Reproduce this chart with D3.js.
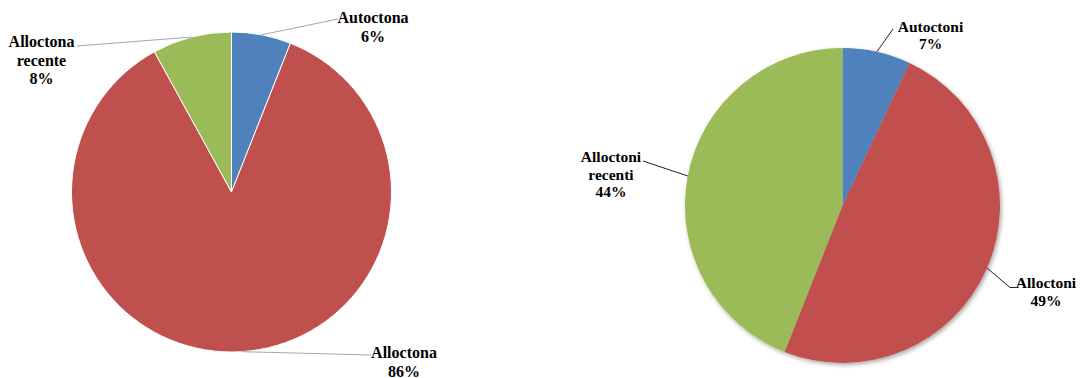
<!DOCTYPE html>
<html>
<head>
<meta charset="utf-8">
<script src="https://cdn.jsdelivr.net/npm/d3@7"></script>
<style>
  html, body { margin: 0; padding: 0; background: #fff; }
  svg { display: block; }
  text { font-family: "Liberation Serif", "Times New Roman", serif; font-weight: bold; fill: #000; }
</style>
</head>
<body>
<svg id="chart" width="1082" height="378"></svg>
<script>
// Composition shares (%), first chart
const leftCategories = ["Autoctona", "Alloctona", "Alloctona recente"];
const leftValues = [6, 86, 8];

// Composition shares (%), second chart
const rightCategories = ["Autoctoni", "Alloctoni", "Alloctoni recenti"];
const rightValues = [7, 49, 44];

const sliceColors = ["#4F81BD", "#C0504D", "#9BBB59"];

const svg = d3.select("#chart");

const defs = svg.append("defs");
const shadow = defs.append("filter")
  .attr("id", "pieShadow")
  .attr("x", "-10%").attr("y", "-10%")
  .attr("width", "120%").attr("height", "120%");
shadow.append("feDropShadow")
  .attr("dx", 1.5).attr("dy", 2)
  .attr("stdDeviation", 2.2)
  .attr("flood-color", "#000")
  .attr("flood-opacity", 0.35);

const pie = d3.pie().sort(null).value(d => d.value);

function drawPie(opts) {
  const data = opts.categories.map((c, i) => ({ name: c, value: opts.values[i], color: sliceColors[i] }));
  const arcs = pie(data);
  const arc = d3.arc().innerRadius(0).outerRadius(opts.r);
  const edge = d3.arc().innerRadius(opts.r).outerRadius(opts.r);

  const g = svg.append("g").attr("transform", `translate(${opts.cx},${opts.cy})`);
  const slices = g.append("g");
  if (opts.shadow) slices.attr("filter", "url(#pieShadow)");
  slices.selectAll("path")
    .data(arcs)
    .join("path")
    .attr("d", arc)
    .attr("fill", d => d.data.color)
    .attr("stroke", opts.sliceStroke || "none")
    .attr("stroke-width", opts.sliceStroke ? 1 : 0);

  arcs.forEach((a, i) => {
    const lab = opts.labels[i];
    const start = edge.centroid(a);
    const pts = [start].concat(lab.path.map(p => [p[0] - opts.cx, p[1] - opts.cy]));
    g.append("path")
      .attr("d", d3.line()(pts))
      .attr("fill", "none")
      .attr("stroke", opts.leaderColor)
      .attr("stroke-width", 1);

    const lines = lab.lines.concat([a.data.value + "%"]);
    const t = svg.append("text")
      .attr("text-anchor", "middle")
      .style("font-size", opts.fontSize + "px");
    lines.forEach((ln, k) => {
      t.append("tspan")
        .attr("x", lab.x)
        .attr("y", lab.y + k * opts.lineGap)
        .text(ln);
    });
  });
}

drawPie({
  categories: leftCategories,
  values: leftValues,
  cx: 231.5, cy: 192, r: 160,
  sliceStroke: "#ffffff",
  shadow: false,
  leaderColor: "#a6a6a6",
  fontSize: 16,
  lineGap: 18.5,
  labels: [
    { lines: ["Autoctona"], x: 373, y: 23, path: [[338, 19]] },
    { lines: ["Alloctona"], x: 404, y: 358, path: [[371, 355]] },
    { lines: ["Alloctona", "recente"], x: 41.5, y: 47, path: [[77, 46]] }
  ]
});

drawPie({
  categories: rightCategories,
  values: rightValues,
  cx: 842.5, cy: 205.5, r: 157.5,
  sliceStroke: null,
  shadow: true,
  leaderColor: "#222",
  fontSize: 15.5,
  lineGap: 17.5,
  labels: [
    { lines: ["Autoctoni"], x: 930.5, y: 31.5, path: [[893, 29]] },
    { lines: ["Alloctoni"], x: 1046, y: 288, path: [[1010, 287.5], [1016, 287.5]] },
    { lines: ["Alloctoni", "recenti"], x: 611, y: 162, path: [[643, 161]] }
  ]
});
</script>
</body>
</html>
